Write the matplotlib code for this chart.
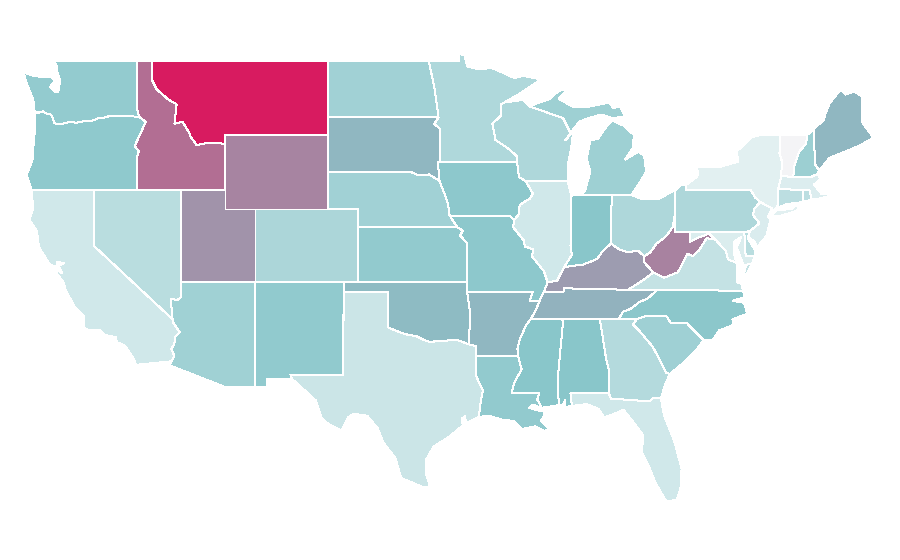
import matplotlib
matplotlib.use("Agg")
import matplotlib.pyplot as plt
from matplotlib.colors import LinearSegmentedColormap, Normalize
from matplotlib.patches import Polygon

# Outlines: (lon, lat)
WA = [[(-122.75,49),(-117.03,49),(-117.04,46.42),(-116.92,45.99),(-118.98,46),(-119.3,45.93),(-119.6,45.92),(-120.2,45.73),(-120.65,45.74),(-121.2,45.65),(-121.5,45.72),(-122.2,45.58),(-122.65,45.62),(-122.76,45.9),(-122.9,46.1),(-123.2,46.15),(-123.45,46.27),(-123.7,46.2),(-124,46.27),(-124.05,46.65),(-124.1,46.9),(-124.3,47.3),(-124.6,47.9),(-124.73,48.38),(-124.1,48.2),(-123.5,48.13),(-123.1,48.15),(-122.8,48.1),(-122.65,47.9),(-122.95,47.6),(-122.6,47.3),(-122.4,47.3),(-122.35,47.6),(-122.25,47.95),(-122.4,48.25),(-122.5,48.5),(-122.5,48.75)]]
OR = [[(-124.2,42),(-124.55,42.84),(-124.15,43.6),(-124.05,44.7),(-123.95,45.5),(-123.95,46.2),(-123.7,46.2),(-123.45,46.27),(-123.2,46.15),(-122.9,46.1),(-122.76,45.9),(-122.65,45.62),(-122.2,45.58),(-121.5,45.72),(-121.2,45.65),(-120.65,45.74),(-120.2,45.73),(-119.6,45.92),(-119.3,45.93),(-118.98,46),(-116.92,45.99),(-116.46,45.7),(-116.85,45),(-117.2,44.4),(-116.93,44.1),(-117.03,43.8),(-117.03,42)]]
CA = [[(-124.2,42),(-120,42),(-120,39),(-114.63,35),(-114.57,34.8),(-114.14,34.3),(-114.43,34.08),(-114.53,33.6),(-114.72,33.4),(-114.5,33),(-114.72,32.72),(-117.12,32.53),(-117.25,32.85),(-117.9,33.6),(-118.4,33.75),(-118.5,34.03),(-119.2,34.15),(-119.6,34.42),(-120.47,34.45),(-120.65,34.6),(-120.65,35.15),(-121.3,35.7),(-121.9,36.6),(-122,36.96),(-122.5,37.5),(-122.5,37.75),(-122.12,37.48),(-122.35,37.9),(-122,38.05),(-122.45,38.1),(-122.5,37.82),(-123,38),(-123.7,38.9),(-123.85,39.8),(-124.35,40.4),(-124.1,41)]]
NV = [[(-120,42),(-114.04,42),(-114.04,36.2),(-114.3,36.05),(-114.75,36.1),(-114.63,35),(-120,39)]]
ID = [[(-117.03,49),(-116.05,49),(-116.05,48),(-115.7,47.45),(-114.9,46.9),(-114.35,46.65),(-114.5,45.6),(-113.95,45.7),(-113.45,45.05),(-113.45,44.95),(-113,44.45),(-112.3,44.55),(-111.5,44.55),(-111.05,44.5),(-111.05,42),(-117.03,42),(-117.03,43.8),(-116.93,44.1),(-117.2,44.4),(-116.85,45),(-116.46,45.7),(-116.92,45.99),(-117.04,46.42)]]
MT = [[(-116.05,49),(-104.05,49),(-104.05,45),(-111.05,45),(-111.05,44.5),(-111.5,44.55),(-112.3,44.55),(-113,44.45),(-113.45,44.95),(-113.45,45.05),(-113.95,45.7),(-114.5,45.6),(-114.35,46.65),(-114.9,46.9),(-115.7,47.45),(-116.05,48)]]
WY = [[(-111.05,45),(-104.05,45),(-104.05,41),(-111.05,41)]]
UT = [[(-114.04,42),(-111.05,42),(-111.05,41),(-109.05,41),(-109.05,37),(-114.04,37)]]
CO = [[(-109.05,41),(-102.05,41),(-102.05,37),(-109.05,37)]]
AZ = [[(-114.04,37),(-109.05,37),(-109.05,31.33),(-111.07,31.33),(-114.81,32.5),(-114.72,32.72),(-114.5,33),(-114.72,33.4),(-114.53,33.6),(-114.43,34.08),(-114.14,34.3),(-114.57,34.8),(-114.63,35),(-114.75,36.1),(-114.3,36.05),(-114.04,36.2)]]
NM = [[(-109.05,37),(-103,37),(-103.05,32),(-106.62,32),(-106.53,31.78),(-108.21,31.78),(-108.21,31.33),(-109.05,31.33)]]
TX = [[(-103,36.5),(-100,36.5),(-100,34.56),(-99.2,34.3),(-98.6,34.15),(-98.1,34.1),(-97.6,33.9),(-97.1,33.75),(-96.6,33.85),(-96,33.85),(-95.3,33.88),(-94.48,33.64),(-94.04,33.55),(-94.04,33.02),(-94.04,32),(-93.8,31.55),(-93.55,31.15),(-93.7,30.5),(-93.75,30.1),(-93.85,29.7),(-94.7,29.35),(-94.75,29.75),(-95,29.6),(-94.9,29.25),(-95.9,28.6),(-96.9,28.1),(-97.4,27.4),(-97.4,26.6),(-97.15,25.96),(-97.55,25.88),(-99.1,26.4),(-99.5,27.5),(-100.3,28.3),(-100.7,29.1),(-101.4,29.77),(-102.3,29.88),(-102.7,29.7),(-103.15,28.98),(-104,29.3),(-104.5,29.65),(-104.9,30.6),(-106,31.4),(-106.53,31.78),(-106.62,32),(-103.05,32)]]
OK = [[(-103,37),(-94.62,37),(-94.62,36.5),(-94.43,35.4),(-94.48,33.64),(-95.3,33.88),(-96,33.85),(-96.6,33.85),(-97.1,33.75),(-97.6,33.9),(-98.1,34.1),(-98.6,34.15),(-99.2,34.3),(-100,34.56),(-100,36.5),(-103,36.5)]]
KS = [[(-102.05,40),(-95.3,40),(-94.9,39.8),(-95.1,39.55),(-94.6,39.1),(-94.62,37),(-102.05,37)]]
NE = [[(-104.05,43),(-98.5,43),(-97.9,42.8),(-97.2,42.85),(-96.5,42.5),(-96.1,41.7),(-95.9,41.2),(-95.85,40.7),(-95.3,40),(-102.05,40),(-102.05,41),(-104.05,41)]]
SD = [[(-104.05,45.94),(-96.56,45.94),(-96.85,45.6),(-96.45,45.3),(-96.45,43.5),(-96.6,43.5),(-96.5,42.5),(-97.2,42.85),(-97.9,42.8),(-98.5,43),(-104.05,43)]]
ND = [[(-104.05,49),(-97.23,49),(-96.85,47.6),(-96.56,45.94),(-104.05,45.94)]]
MN = [[(-97.23,49),(-95.15,49),(-95.15,49.38),(-94.8,49.3),(-94.6,48.7),(-93.8,48.55),(-92.95,48.62),(-92,48.3),(-91.4,48.07),(-90.8,48.2),(-89.6,48),(-90.9,47.3),(-92.1,46.75),(-92.3,46.65),(-92.29,46.07),(-92.9,45.6),(-92.75,45),(-92.75,44.75),(-91.9,44.3),(-91.25,43.85),(-91.22,43.5),(-96.45,43.5),(-96.45,45.3),(-96.85,45.6),(-96.56,45.94),(-96.85,47.6)]]
IA = [[(-96.45,43.5),(-91.22,43.5),(-91.1,42.7),(-90.65,42.5),(-90.15,41.8),(-90.35,41.55),(-91.05,41.2),(-91.1,40.7),(-91.42,40.38),(-91.73,40.61),(-95.77,40.58),(-95.85,40.7),(-95.9,41.2),(-96.1,41.7),(-96.5,42.5),(-96.6,43.5)]]
MO = [[(-95.77,40.58),(-91.73,40.61),(-91.42,40.38),(-91.5,40),(-90.75,39.25),(-90.7,38.95),(-90.15,38.8),(-90.2,38.4),(-89.7,37.9),(-89.4,37.6),(-89.15,37),(-89.4,36.5),(-89.7,36),(-90.37,36),(-90.15,36.5),(-94.62,36.5),(-94.62,37),(-94.6,39.1),(-95.1,39.55),(-94.9,39.8),(-95.3,40)]]
AR = [[(-94.62,36.5),(-90.15,36.5),(-90.37,36),(-89.7,36),(-89.95,35.5),(-90.1,35.1),(-90.3,35),(-90.6,34.7),(-91.05,33.9),(-91.2,33.4),(-91.15,33),(-94.04,33.02),(-94.04,33.55),(-94.48,33.64),(-94.43,35.4)]]
LA = [[(-94.04,33.02),(-91.15,33),(-91,32.5),(-90.9,32.3),(-91.4,31.6),(-91.6,31),(-89.73,31),(-89.85,30.65),(-89.55,30.2),(-90.2,30.38),(-90.4,30.2),(-89.75,30.05),(-89.4,30.05),(-89.4,29.75),(-89.6,29.5),(-89.05,29.05),(-89.4,28.95),(-90,29.2),(-90.9,29.05),(-91.5,29.5),(-92.2,29.55),(-93.2,29.78),(-93.85,29.7),(-93.75,30.1),(-93.7,30.5),(-93.55,31.15),(-93.8,31.55),(-94.04,32)]]
MS = [[(-90.3,35),(-88.2,35),(-88.1,34.9),(-88.45,31.9),(-88.4,30.35),(-89.55,30.2),(-89.85,30.65),(-89.73,31),(-91.6,31),(-91.4,31.6),(-90.9,32.3),(-91,32.5),(-91.15,33),(-91.2,33.4),(-91.05,33.9),(-90.6,34.7)]]
AL = [[(-88.2,35),(-85.6,35),(-85.18,32.87),(-85,32.3),(-85,31),(-87.6,31),(-87.5,30.3),(-87.95,30.25),(-87.95,30.65),(-88.1,30.35),(-88.4,30.35),(-88.45,31.9),(-88.1,34.9)]]
GA = [[(-85.6,35),(-83.1,35),(-83.35,34.7),(-83,34.45),(-82,33.5),(-81.4,32.6),(-81.1,32.1),(-80.85,32.03),(-81.15,31.5),(-81.45,30.72),(-82,30.75),(-82.2,30.55),(-84.85,30.7),(-85,31),(-85,32.3),(-85.18,32.87)]]
FL = [[(-87.6,31),(-85,31),(-84.85,30.7),(-82.2,30.55),(-82,30.75),(-81.45,30.72),(-81.25,29.8),(-80.55,28.4),(-80.05,26.9),(-80.13,25.8),(-80.4,25.2),(-81.1,25.15),(-81.8,26.1),(-82.2,26.9),(-82.75,27.8),(-82.65,28.7),(-83.4,29.5),(-84,30.1),(-84.4,29.95),(-85.3,29.68),(-85.7,30.15),(-86.5,30.4),(-87.5,30.3)]]
SC = [[(-83.1,35),(-82.4,35.2),(-81.05,35.15),(-80.8,34.82),(-79.7,34.8),(-78.55,33.86),(-79.2,33.2),(-80,32.6),(-80.85,32.03),(-81.1,32.1),(-81.4,32.6),(-82,33.5),(-83,34.45),(-83.35,34.7)]]
NC = [[(-84.32,35),(-84.05,35.4),(-83.5,35.57),(-82.9,35.95),(-82.4,36.1),(-81.7,36.59),(-75.87,36.55),(-75.75,36.2),(-76.6,36),(-75.8,35.9),(-75.6,35.3),(-76.6,35),(-76.5,34.7),(-77.5,34.4),(-77.95,33.87),(-78.55,33.86),(-79.7,34.8),(-80.8,34.82),(-81.05,35.15),(-82.4,35.2),(-83.1,35)]]
TN = [[(-90.3,35),(-89.95,35.5),(-89.7,36),(-89.4,36.5),(-88.07,36.5),(-88.07,36.68),(-83.68,36.6),(-81.7,36.59),(-82.4,36.1),(-82.9,35.95),(-83.5,35.57),(-84.05,35.4),(-84.32,35),(-85.6,35),(-88.2,35)]]
KY = [[(-89.4,36.5),(-89.15,37),(-88.5,37.1),(-88.05,37.8),(-87.5,37.9),(-86.8,37.95),(-86.3,38.1),(-85.8,38.27),(-85.4,38.7),(-84.85,39.1),(-84.3,38.8),(-83.7,38.63),(-83,38.72),(-82.6,38.42),(-82.6,38.1),(-81.97,37.54),(-82.7,37.1),(-83.68,36.6),(-88.07,36.68),(-88.07,36.5)]]
IL = [[(-90.65,42.5),(-87.8,42.5),(-87.53,41.7),(-87.53,39.35),(-87.6,39),(-87.5,38.5),(-88.05,37.8),(-88.5,37.1),(-89.15,37),(-89.4,37.6),(-89.7,37.9),(-90.2,38.4),(-90.15,38.8),(-90.7,38.95),(-90.75,39.25),(-91.5,40),(-91.42,40.38),(-91.1,40.7),(-91.05,41.2),(-90.35,41.55),(-90.15,41.8)]]
IN = [[(-87.53,41.7),(-87.2,41.75),(-86.8,41.76),(-84.8,41.76),(-84.85,39.1),(-85.4,38.7),(-85.8,38.27),(-86.3,38.1),(-86.8,37.95),(-87.5,37.9),(-88.05,37.8),(-87.5,38.5),(-87.6,39),(-87.53,39.35)]]
OH = [[(-84.8,41.76),(-83.45,41.73),(-82.7,41.5),(-81.7,41.5),(-80.52,41.98),(-80.52,40.64),(-80.65,40),(-81.1,39.5),(-81.75,39.1),(-82.2,38.6),(-82.6,38.42),(-83,38.72),(-83.7,38.63),(-84.3,38.8),(-84.85,39.1)]]
MI = [[(-86.8,41.76),(-84.8,41.76),(-83.45,41.73),(-83.15,42.1),(-82.9,42.4),(-82.45,43),(-82.6,43.9),(-83,44.07),(-83.9,43.65),(-83.35,44.3),(-83.3,45),(-84,45.5),(-84.75,45.77),(-85.1,45.5),(-85.55,45),(-85.7,44.8),(-86.25,44.7),(-86.5,43.7),(-86.25,43),(-86.6,42)],
      [(-90.4,46.55),(-89,46.95),(-88.4,47.38),(-87.8,47.47),(-88.4,46.95),(-87.4,46.5),(-86.5,46.5),(-85,46.75),(-84.7,46.47),(-84.2,46.5),(-83.9,46),(-84.7,45.9),(-85.5,46.1),(-86.6,45.85),(-87,45.7),(-87.6,45.1),(-88.1,45.9)],
      [(-89.2,47.85),(-88.5,48.15),(-88.9,47.95)]]
WI = [[(-92.1,46.75),(-90.8,46.9),(-90.4,46.55),(-88.1,45.9),(-87.6,45.1),(-87.95,44.7),(-87.4,45.2),(-87.55,44.3),(-87.8,43.3),(-87.8,42.5),(-90.65,42.5),(-91.1,42.7),(-91.22,43.5),(-91.25,43.85),(-91.9,44.3),(-92.75,44.75),(-92.75,45),(-92.9,45.6),(-92.29,46.07),(-92.3,46.65)]]
PA = [[(-80.52,41.98),(-80.1,42.27),(-79.76,42.27),(-79.76,42),(-75.35,42),(-75.05,41.6),(-74.7,41.36),(-75.1,41),(-75.2,40.65),(-74.75,40.2),(-75.4,39.8),(-75.79,39.72),(-80.52,39.72),(-80.52,40.64)]]
NY = [[(-79.76,42.27),(-79.05,42.7),(-78.9,42.9),(-79.05,43.27),(-77.5,43.25),(-76.2,43.55),(-76.3,44.1),(-75.3,44.85),(-74.7,45),(-73.34,45),(-73.4,44),(-73.25,43.6),(-73.27,42.75),(-73.5,42.05),(-73.48,41.2),(-73.65,41),(-74,40.75),(-73.9,41),(-74.7,41.36),(-75.05,41.6),(-75.35,42),(-79.76,42)],
      [(-74,40.6),(-73.6,40.9),(-72.6,40.98),(-72.3,41.15),(-71.9,41.05),(-72.5,40.8),(-73.5,40.58)]]
NJ = [[(-73.9,41),(-74.7,41.36),(-75.1,41),(-75.2,40.65),(-74.75,40.2),(-75.4,39.8),(-75.55,39.5),(-75.1,39.2),(-74.9,38.93),(-74.3,39.5),(-74,40.4),(-74.2,40.55),(-74.05,40.75)]]
DE = [[(-75.79,39.72),(-75.4,39.8),(-75.55,39.4),(-75.1,38.8),(-75.05,38.45),(-75.7,38.45)]]
MD = [[(-79.48,39.72),(-75.79,39.72),(-75.7,38.45),(-75.05,38.45),(-75.25,38.03),(-75.65,37.95),(-75.85,37.95),(-76.3,38.9),(-76,39.45),(-76.5,39.2),(-76.45,38.4),(-76.3,38.05),(-76.9,38.25),(-77.05,38.7),(-77.5,39.1),(-77.75,39.32),(-78.2,39.65),(-78.45,39.55),(-78.85,39.45),(-79.48,39.2)]]
VA = [[(-83.68,36.6),(-75.87,36.55),(-76,36.95),(-76.3,37),(-76.3,37.55),(-76.3,38.05),(-76.9,38.25),(-77.05,38.7),(-77.5,39.1),(-77.75,39.32),(-78.35,39.4),(-78.85,38.75),(-79.3,38.42),(-79.65,38.55),(-80.3,37.55),(-81.25,37.25),(-81.97,37.54),(-82.7,37.1)],
      [(-75.25,38.03),(-75.65,37.95),(-75.95,37.15),(-75.6,37.5)]]
WV = [[(-80.52,40.64),(-80.52,39.72),(-79.48,39.72),(-79.48,39.2),(-78.85,39.45),(-78.45,39.55),(-78.2,39.65),(-77.75,39.32),(-78.35,39.4),(-78.85,38.75),(-79.3,38.42),(-79.65,38.55),(-80.3,37.55),(-81.25,37.25),(-81.97,37.54),(-82.6,38.1),(-82.6,38.42),(-82.2,38.6),(-81.75,39.1),(-81.1,39.5),(-80.65,40)]]
CT = [[(-73.5,42.05),(-71.8,42.02),(-71.8,41.35),(-72.9,41.25),(-73.65,41),(-73.48,41.2)]]
RI = [[(-71.8,42.02),(-71.38,42.02),(-71.2,41.5),(-71.8,41.35)]]
MA = [[(-73.5,42.05),(-73.27,42.75),(-71.3,42.7),(-70.85,42.87),(-70.6,42.65),(-71.05,42.3),(-70.55,41.8),(-70,41.78),(-70.05,42.05),(-69.95,41.7),(-70.65,41.55),(-71.2,41.5),(-71.38,42.02),(-71.8,42.02)]]
VT = [[(-73.34,45),(-71.5,45),(-71.6,44.5),(-72.05,44.1),(-72.4,43.3),(-72.46,42.73),(-73.27,42.75),(-73.25,43.6),(-73.4,44)]]
NH = [[(-71.5,45),(-71.08,45.3),(-70.98,43.4),(-70.7,43.07),(-70.85,42.87),(-71.3,42.7),(-72.46,42.73),(-72.4,43.3),(-72.05,44.1),(-71.6,44.5)]]
ME = [[(-71.08,45.3),(-70.4,45.8),(-70.25,46.2),(-70,46.7),(-69.23,47.46),(-68.9,47.18),(-68.3,47.35),(-67.8,47.07),(-67.8,45.7),(-67.45,45.3),(-67,44.85),(-68,44.4),(-69.05,44.05),(-70,43.75),(-70.7,43.07),(-70.98,43.4)]]

states = ["WA","OR","CA","NV","ID","MT","WY","UT","CO","AZ","NM","TX","OK","KS","NE","SD","ND",
          "MN","IA","MO","AR","LA","MS","AL","GA","FL","SC","NC","TN","KY","IL","IN","OH","MI","WI",
          "PA","NY","NJ","DE","MD","VA","WV","CT","RI","MA","VT","NH","ME"]
values = [36,37.5,13.6,22,71,100,63,58,27,31.4,37,15.6,44,36.6,31,45,31,
          26,38.5,38.5,45,36.5,40,40,24,13.4,32,39,47,55,13.6,40,26.5,32.4,26.5,
          26.5,7,10,22,9.6,18,64,21,21,9.3,0,33,45]
shapes = [WA,OR,CA,NV,ID,MT,WY,UT,CO,AZ,NM,TX,OK,KS,NE,SD,ND,
          MN,IA,MO,AR,LA,MS,AL,GA,FL,SC,NC,TN,KY,IL,IN,OH,MI,WI,
          PA,NY,NJ,DE,MD,VA,WV,CT,RI,MA,VT,NH,ME]

cmap = LinearSegmentedColormap.from_list(
    "rate", [(0, "#f4f4f6"), (0.07, "#e1f0f1"), (0.4, "#89c6ca"), (1, "#d81b60")])
norm = Normalize(0, 100)

fig = plt.figure(figsize=(9, 5.6), dpi=100)
ax = fig.add_axes([0, 0, 1, 1])
for name, rings, v in zip(states, shapes, values):
    for ring in rings:
        ax.add_patch(Polygon(ring, closed=True, facecolor=cmap(norm(v)), edgecolor="white",
                             linewidth=0.72, antialiased=False, joinstyle="miter"))
ax.set_xlim(-126.353, -65.212)
ax.set_ylim(21.954, 52.306)
ax.axis("off")
fig.savefig("out.png", dpi=100, facecolor="white")
